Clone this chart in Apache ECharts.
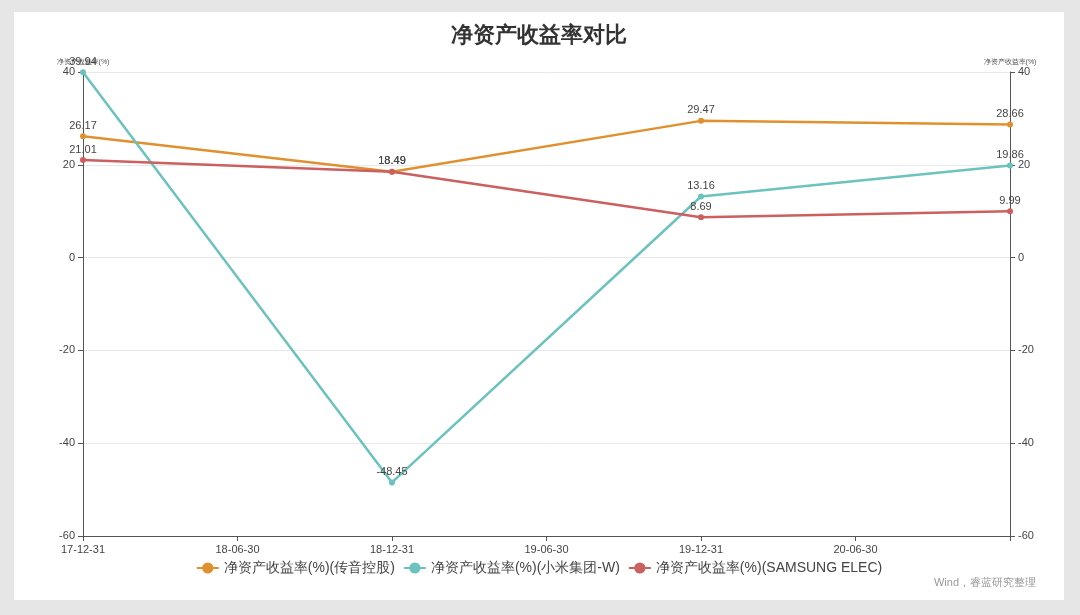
<!DOCTYPE html>
<html>
<head>
<meta charset="utf-8">
<script src="https://cdn.jsdelivr.net/npm/echarts@6/dist/echarts.min.js"></script>
<style>
  html, body { margin: 0; padding: 0; background: #e6e6e6; }
  #chart { position: absolute; left: 14px; top: 12px; width: 1050px; height: 588px; background: #fff; }
</style>
</head>
<body>
<div id="chart"></div>
<script>
// dates on the axis; only year ends carry values
const dates = ["17-12-31", "18-06-30", "18-12-31", "19-06-30", "19-12-31", "20-06-30", "20-12-31"];
const chuanyin = [26.17, null, 18.49, null, 29.47, null, 28.66];
const xiaomi = [39.94, null, -48.45, null, 13.16, null, 19.86];
const samsung = [21.01, null, 18.49, null, 8.69, null, 9.99];
const seriesNames = ["净资产收益率(%)(传音控股)", "净资产收益率(%)(小米集团-W)", "净资产收益率(%)(SAMSUNG ELEC)"];
const colors = ["#e0912f", "#6cc2bd", "#cc5f5f"];

const chart = echarts.init(document.getElementById("chart"));
const yAxisBase = {
  type: "value",
  min: -60,
  max: 40,
  interval: 20,
  name: "净资产收益率(%)",
  nameGap: 6,
  nameTextStyle: { fontSize: 7, color: "#555" },
  axisLine: { show: true, lineStyle: { color: "#555" } },
  axisTick: { show: true },
  axisLabel: { color: "#444", fontSize: 11 },
};
const makeSeries = (name, data, color) => ({
  name: name,
  type: "line",
  data: data,
  connectNulls: true,
  symbol: "circle",
  symbolSize: 6,
  lineStyle: { width: 2.5, color: color },
  itemStyle: { color: color },
  label: { show: true, position: "top", fontSize: 11, color: "#444", distance: 2 },
});
chart.setOption({
  title: {
    text: "净资产收益率对比",
    left: "center",
    top: 8,
    textStyle: { fontSize: 22, fontWeight: "bold", color: "#333" },
  },
  legend: {
    bottom: 20,
    left: "center",
    itemWidth: 22,
    textStyle: { fontSize: 14, color: "#444" },
    data: seriesNames,
  },
  grid: { left: 69, right: 54, top: 60, bottom: 64 },
  xAxis: {
    type: "category",
    data: dates,
    boundaryGap: false,
    axisLine: { onZero: false, lineStyle: { color: "#555" } },
    axisTick: { show: true, alignWithLabel: true },
    axisLabel: {
      color: "#444",
      fontSize: 11,
      formatter: (v, i) => (i === dates.length - 1 ? "" : v),
    },
  },
  yAxis: [
    Object.assign({}, yAxisBase, { position: "left", splitLine: { lineStyle: { color: "#e8e8e8" } } }),
    Object.assign({}, yAxisBase, { position: "right", splitLine: { show: false } }),
  ],
  series: [
    makeSeries(seriesNames[0], chuanyin, colors[0]),
    makeSeries(seriesNames[1], xiaomi, colors[1]),
    makeSeries(seriesNames[2], samsung, colors[2]),
  ],
  graphic: [{
    type: "text",
    right: 28,
    bottom: 12,
    style: { text: "Wind，睿蓝研究整理", fontSize: 11, fill: "#999" },
  }],
});
</script>
</body>
</html>
